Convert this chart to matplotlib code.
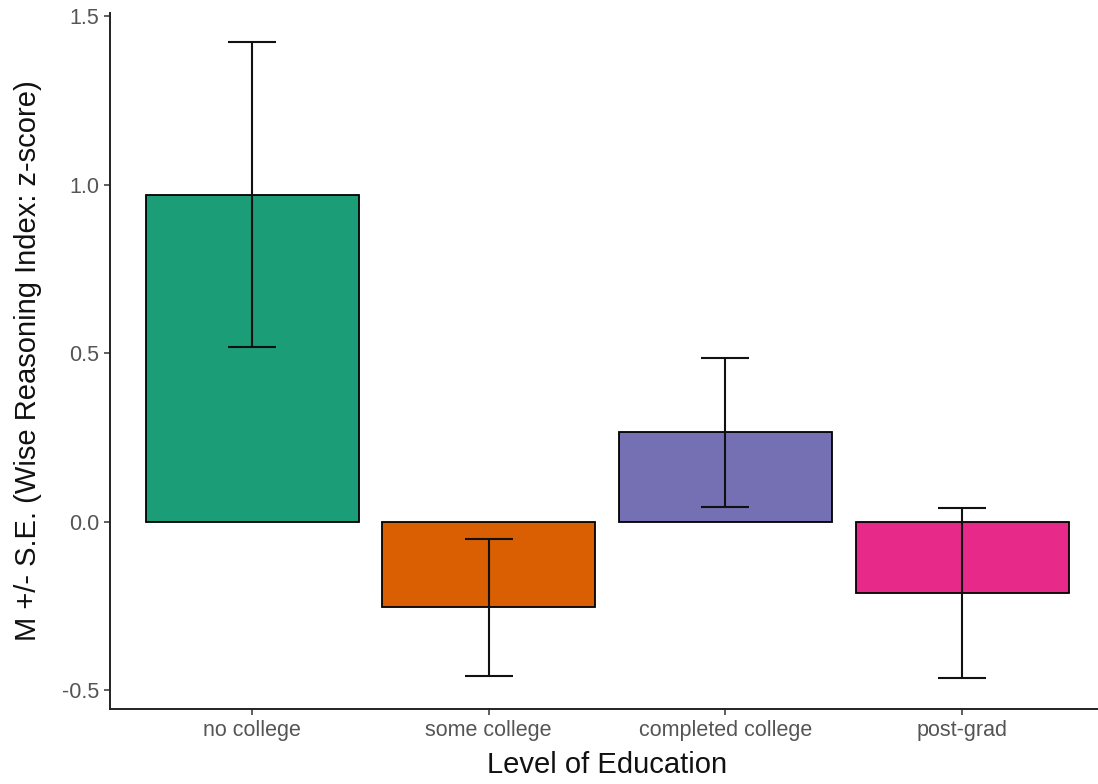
import numpy as np
import matplotlib.pyplot as plt

# dados
niveis = ['no college', 'some college', 'completed college', 'post-grad']
medias = [0.971, -0.254, 0.266, -0.211]
erro_padrao = [0.452, 0.203, 0.221, 0.252]
cores = ['#1B9E77', '#D95F02', '#7570B3', '#E7298A']

plt.rcParams['font.family'] = ['Liberation Sans', 'DejaVu Sans']

fig = plt.figure(figsize=(10.98, 7.84), dpi=100)
# eixo posicionado em pixels (esquerda 110, direita 1104, base 709, topo 13)
ax = fig.add_axes([110 / 1098, 1 - 709 / 784, (1104 - 110) / 1098, (709 - 13) / 784])

x = np.arange(1, len(niveis) + 1)
ax.bar(x, medias, width=0.9, color=cores, edgecolor='black', linewidth=1.3, zorder=2)

# barras de erro: tampa com 0.2 de largura (em unidades de dados)
px_por_unidade = (1104 - 110) / 4.2
capsize_pt = 0.1 * px_por_unidade * 72 / 100
ax.errorbar(x, medias, yerr=erro_padrao, fmt='none', ecolor='#111111',
            elinewidth=1.5, capsize=capsize_pt, capthick=1.5, zorder=3)

ax.set_xlim(0.4, 4.6)
ax.set_ylim(-0.556, 1.51)
ax.set_xticks(x)
ax.set_xticklabels(niveis)
ax.set_yticks([-0.5, 0.0, 0.5, 1.0, 1.5])
ax.set_yticklabels(['-0.5', '0.0', '0.5', '1.0', '1.5'])

ax.spines['top'].set_visible(False)
ax.spines['right'].set_visible(False)
ax.spines['left'].set_linewidth(1.4)
ax.spines['bottom'].set_linewidth(1.4)
ax.spines['left'].set_color('#222222')
ax.spines['bottom'].set_color('#222222')
ax.tick_params(axis='both', colors='#333333', length=4.5, width=1.1,
               labelsize=15.5, labelcolor='#555555', pad=3.5)

ax.set_xlabel('Level of Education', fontsize=21, color='#111111')
ax.set_ylabel('M +/- S.E. (Wise Reasoning Index: z-score)', fontsize=21, color='#111111')
ax.xaxis.label.set_va('center')
ax.yaxis.label.set_va('center')
ax.xaxis.set_label_coords(0.5, (709 - 765) / 696)
ax.yaxis.set_label_coords((28 - 110) / 994, 0.5)

fig.savefig('out.png', dpi=100)
